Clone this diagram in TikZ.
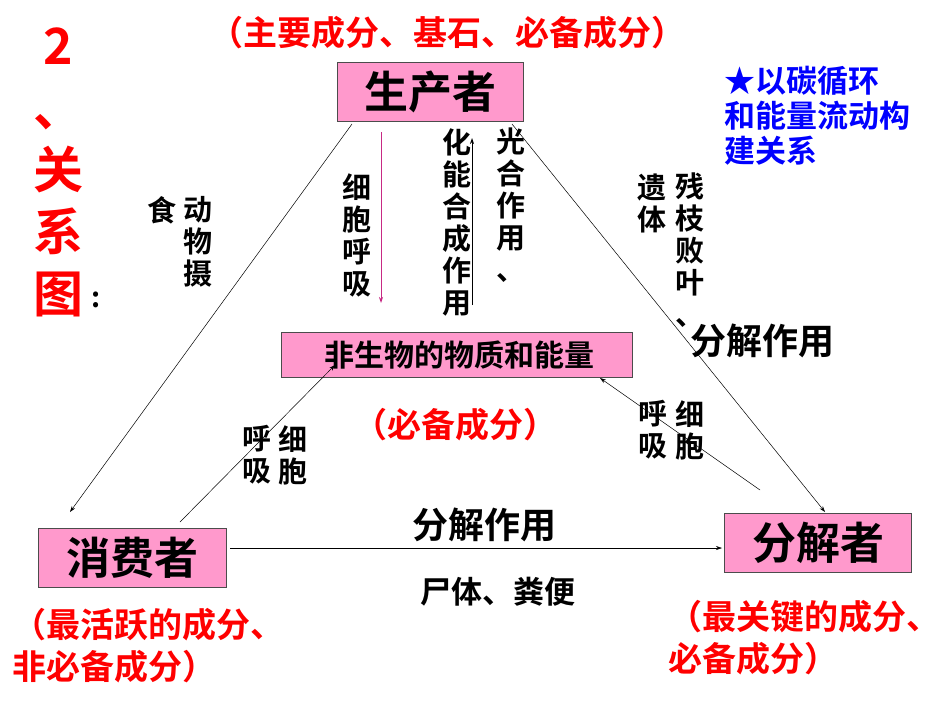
\documentclass[tikz,border=0pt]{standalone}
\usepackage{fontspec}
\setmainfont{Noto Sans CJK SC}[BoldFont={Noto Sans CJK SC Bold}]
\usetikzlibrary{arrows.meta}
\begin{document}
\begin{tikzpicture}[x=1pt,y=-1pt,
 box/.style={draw=black!70,fill=bx,line width=0.8pt,inner sep=0},
 lbl/.style={font=\bfseries\fontsize{36}{40}\selectfont,align=center,inner sep=0},
 red/.style={font=\bfseries\fontsize{34}{42}\selectfont,text=red,inner sep=0},
 vt/.style={font=\bfseries\fontsize{29}{32}\selectfont,align=center,inner sep=0},
 ln/.style={line width=0.5pt,-{Stealth[length=6pt,width=4pt]}}]
\definecolor{bx}{RGB}{255,153,204}
\useasboundingbox (0,0) rectangle (950,713);
\node[box,minimum width=186,minimum height=59,font=\bfseries\fontsize{44}{48}\selectfont] (P) at (430,92) {生产者};
\node[box,minimum width=351,minimum height=45,font=\bfseries\fontsize{30}{32}\selectfont,anchor=west] (A) at (281,355) {\hspace{6pt}非生物的物质和能量\hspace*{\fill}};
\node[box,minimum width=188,minimum height=59,font=\bfseries\fontsize{44}{48}\selectfont] (C) at (132,558) {消费者};
\node[box,minimum width=187,minimum height=59,font=\bfseries\fontsize{44}{48}\selectfont] (D) at (818,543) {分解者};
% red notes
\node[red] (n1) at (447,33) {（主要成分、基石、必备成分）};
\node[red] (n2) at (455,425) {（必备成分）};
\node[red,align=left,anchor=north west] (n3) at (12,608) {（最活跃的成分、\\非必备成分）};
\node[red,align=left,anchor=north west] (n4) at (668,600) {（最关键的成分、\\必备成分）};
\node[font=\bfseries\fontsize{50}{62}\selectfont,text=red,align=center,anchor=north,inner sep=0] (t) at (58,28) {2\\、\\关\\系\\图};
\node[font=\bfseries\fontsize{28}{30}\selectfont] (colon) at (96,300) {:};
\node[font=\bfseries\fontsize{31}{35}\selectfont,text=blue,align=left,anchor=north west,inner sep=0] (s) at (724,66) {★以碳循环\\和能量流动构\\建关系};
% connectors
\draw[ln] (352,124) -- (70,512);
\draw[ln] (512,124) -- (825,512);
\draw[ln] (180,522) -- (335,365);
\draw[ln] (760,490) -- (600,378);
\draw[ln] (230,548) -- (722,548);
\draw[line width=0.8pt,magenta!80!black,-{Stealth[length=6pt,width=4pt]}] (381,132) -- (381,303);
\draw[line width=0.8pt,red,-{Stealth[length=6pt,width=4pt]}] (472,305) -- (472,138);
% labels
\node[vt] (l1) at (357,235) {细\\胞\\呼\\吸};
\node[vt] (l2) at (457,222) {化\\能\\合\\成\\作\\用};
\node[vt] (l3) at (511,205) {光\\合\\作\\用\\、};
\node[vt] (l4) at (162,210) {食};
\node[vt] (l5) at (198,242) {动\\物\\摄};
\node[vt] (l6) at (652,203) {遗\\体};
\node[vt] (l7) at (690,250) {残\\枝\\败\\叶\\、};
\node[lbl,anchor=west] (l8) at (690,341) {分解作用};
\node[vt] (l9) at (293,455) {细\\胞};
\node[vt] (l10) at (257,455) {呼\\吸};
\node[vt] (l11) at (653,430) {呼\\吸};
\node[vt] (l12) at (690,430) {细\\胞};
\node[lbl] (l13) at (484,525) {分解作用};
\node[font=\bfseries\fontsize{31}{34}\selectfont,inner sep=0] (l14) at (498,592) {尸体、粪便};
\end{tikzpicture}
\end{document}
